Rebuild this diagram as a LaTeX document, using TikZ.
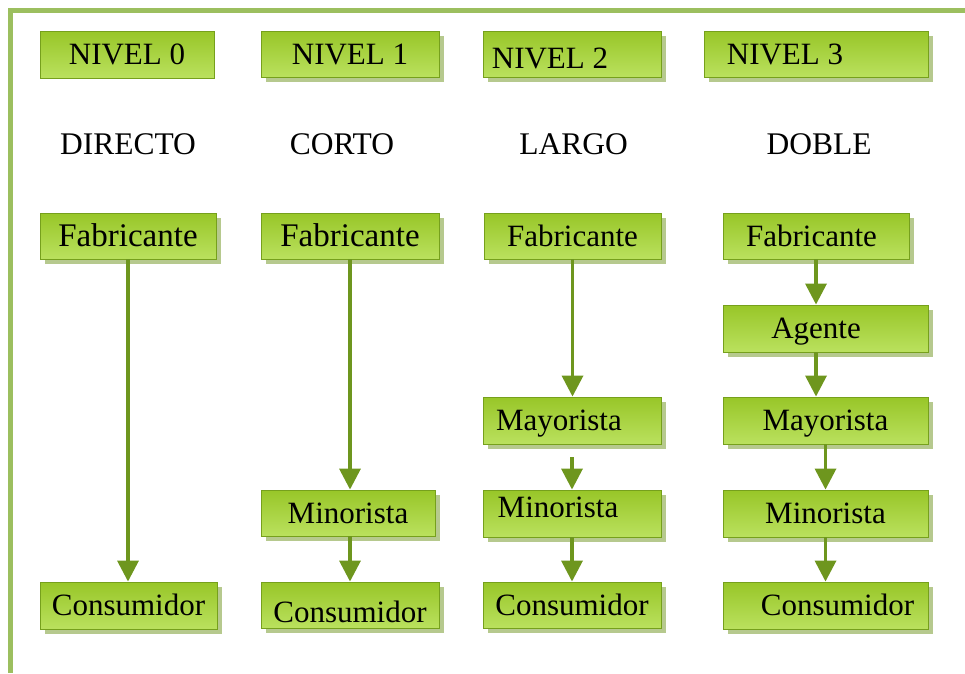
\documentclass[tikz,border=0pt]{standalone}
\usepackage{fontspec}
\setmainfont{Liberation Serif}
\usetikzlibrary{arrows.meta,shadows}
\definecolor{framegreen}{HTML}{9CBF5F}
\definecolor{boxtop}{HTML}{98C628}
\definecolor{boxbot}{HTML}{BAE15E}
\definecolor{boxline}{HTML}{76A01C}
\definecolor{shadowgreen}{HTML}{B6C98E}
\definecolor{arrowgreen}{HTML}{6E961E}
\newcommand\sh[3]{\kern#1pt\raisebox{#2pt}{#3}}
\tikzset{
  basebox/.style={rectangle, draw=boxline, line width=0.9pt, top color=boxtop, bottom color=boxbot,
    inner sep=0pt, text height=20.5pt, text depth=0pt, font=\fontsize{31}{36}\selectfont},
  box/.style={basebox, drop shadow={shadow xshift=5pt, shadow yshift=-5pt, fill=shadowgreen, opacity=1}},
  bigtext/.style={font=\fontsize{33}{38}\selectfont, text height=21.8pt},
  hdr/.style={inner sep=0pt, text height=21pt, text depth=0pt, font=\fontsize{31.5}{36}\selectfont},
  flow/.style={draw=arrowgreen, line width=3.5pt, -{Triangle[length=21pt,width=21pt]}},
  frameline/.style={draw=framegreen, line width=5pt}
}
\begin{document}
\begin{tikzpicture}[x=1pt,y=-1pt]
\useasboundingbox (0,0) rectangle (965,673);
% frame
\coordinate (ftr) at (965,10.5);
\coordinate (ftl) at (8,10.5);
\coordinate (fbl) at (10.5,673);
\coordinate (fc) at (10.5,10.5);
\draw[frameline] (ftr) -- (ftl);
\draw[frameline] (fc) -- (fbl);
% level boxes
\node[basebox, minimum width=174pt, minimum height=47pt] (n0) at (127,54.5) {NIVEL 0};
\node[box, minimum width=178pt, minimum height=46pt] (n1) at (350,54) {NIVEL 1};
\node[box, minimum width=178pt, minimum height=46pt] (n2) at (572,54) {\sh{-44}{-4}{NIVEL 2}};
\node[box, minimum width=224pt, minimum height=46pt] (n3) at (816,54) {\sh{-62}{0}{NIVEL 3}};
% headers
\node[hdr] (t0) at (128,144) {DIRECTO};
\node[hdr] (t1) at (342,144) {CORTO};
\node[hdr] (t2) at (573.5,144) {LARGO};
\node[hdr] (t3) at (819,144) {DOBLE};
% column 0
\node[box, bigtext, minimum width=176pt, minimum height=46pt] (f0) at (128,236) {Fabricante};
\node[box, minimum width=177pt, minimum height=47pt] (c0) at (128.5,605.5) {Consumidor};
% column 1
\node[box, bigtext, minimum width=178pt, minimum height=46pt] (f1) at (350,236) {Fabricante};
\node[box, minimum width=174pt, minimum height=46pt] (m1) at (348,513) {Minorista};
\node[box, minimum width=178pt, minimum height=46pt] (c1) at (350,605) {\sh{0}{-7}{Consumidor}};
% column 2
\node[box, minimum width=177pt, minimum height=46pt] (f2) at (572.5,236) {Fabricante};
\node[box, minimum width=178pt, minimum height=47pt] (y2) at (572,420.5) {\sh{-26}{0}{Mayorista}};
\node[box, minimum width=178pt, minimum height=47pt] (m2) at (572,513.5) {\sh{-28}{6}{Minorista}};
\node[box, minimum width=178pt, minimum height=46pt] (c2) at (572,605) {Consumidor};
% column 3
\node[box, minimum width=186pt, minimum height=46pt] (f3) at (816,236) {\sh{-9}{0}{Fabricante}};
\node[box, minimum width=205pt, minimum height=47pt] (a3) at (825.5,328.5) {\sh{-19}{0}{Agente}};
\node[box, minimum width=205pt, minimum height=47pt] (y3) at (825.5,420.5) {Mayorista};
\node[box, minimum width=205pt, minimum height=47pt] (m3) at (825.5,513.5) {Minorista};
\node[box, minimum width=205pt, minimum height=47pt] (c3) at (825.5,605.5) {\sh{24}{0}{Consumidor}};
% arrows
\draw[flow] (f0.south) -- (f0.south |- c0.north);
\draw[flow] (f1.south) -- (f1.south |- m1.north);
\draw[flow] (m1.south -| f1.south) -- (f1.south |- c1.north);
\draw[flow] (f2.south) -- (f2.south |- y2.north);
\draw[flow, shorten <=13pt] (y2.south) -- (m2.north);
\draw[flow] (m2.south) -- (c2.north);
\draw[flow] (f3.south) -- (f3.south |- a3.north);
\draw[flow] (a3.south -| f3.south) -- (f3.south |- y3.north);
\draw[flow] (y3.south) -- (m3.north);
\draw[flow] (m3.south) -- (c3.north);
\end{tikzpicture}
\end{document}
